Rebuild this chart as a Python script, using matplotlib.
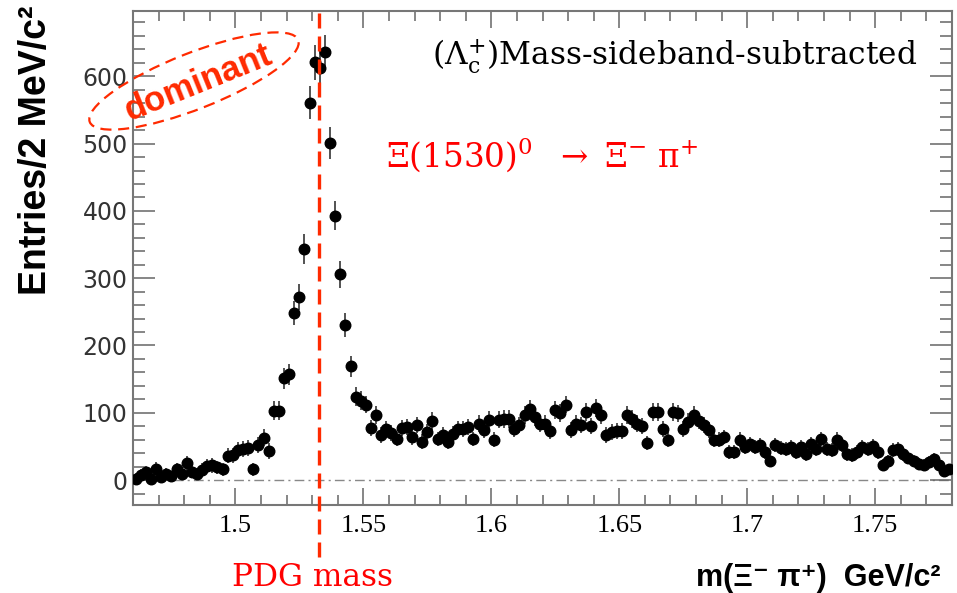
import numpy as np
import matplotlib
matplotlib.use("Agg")
import matplotlib.pyplot as plt
from matplotlib.patches import Ellipse

plt.rcParams["font.family"] = ["DejaVu Sans"]
plt.rcParams["mathtext.fontset"] = "dejavuserif"

# m(Xi- pi+) histogram, 2 MeV bins from 1.46 to 1.78 GeV
MASS_LO = 1.46
MASS_HI = 1.78
BIN_WIDTH = 0.002
PDG_MASS = 1.5326

counts = [
    2, 8, 12, 1, 17, 5, 9, 6, 16, 9,
    25, 12, 9, 15, 21, 22, 19, 16, 36, 37,
    45, 46, 48, 16, 52, 63, 43, 103, 103, 151,
    157, 248, 272, 343, 561, 621, 613, 636, 501, 393,
    306, 231, 169, 124, 118, 112, 78, 97, 67, 76,
    70, 61, 78, 79, 64, 82, 57, 72, 88, 61,
    67, 57, 69, 76, 76, 79, 61, 84, 75, 90,
    60, 90, 91, 91, 76, 82, 97, 106, 94, 84,
    84, 73, 104, 100, 112, 75, 84, 82, 101, 81,
    107, 97, 67, 72, 73, 73, 97, 91, 84, 81,
    55, 101, 101, 76, 60, 101, 99, 76, 87, 97,
    88, 82, 75, 60, 60, 64, 42, 42, 60, 49,
    54, 49, 52, 42, 28, 52, 48, 46, 49, 42,
    49, 39, 54, 46, 61, 46, 45, 60, 52, 39,
    37, 42, 49, 46, 51, 42, 22, 28, 45, 46,
    39, 33, 28, 24, 22, 27, 31, 22, 13, 16,
]

errors = [
    8, 9, 9, 8, 10, 8, 9, 8, 10, 9,
    11, 9, 9, 10, 10, 11, 10, 10, 11, 11,
    12, 12, 12, 10, 12, 13, 12, 14, 14, 16,
    16, 18, 19, 22, 25, 26, 26, 26, 24, 22,
    20, 18, 16, 14, 14, 13, 12, 13, 12, 12,
    12, 11, 12, 12, 12, 12, 11, 12, 13, 11,
    12, 11, 12, 12, 12, 12, 11, 13, 12, 13,
    11, 13, 13, 13, 12, 12, 13, 13, 13, 12,
    12, 12, 13, 13, 13, 12, 12, 12, 13, 12,
    13, 13, 12, 12, 12, 12, 13, 13, 12, 12,
    11, 13, 13, 12, 11, 13, 13, 12, 12, 13,
    12, 12, 12, 11, 11, 11, 10, 10, 11, 10,
    10, 10, 10, 10, 9, 10, 10, 10, 10, 10,
    10, 10, 10, 10, 11, 10, 10, 11, 10, 10,
    10, 10, 10, 10, 10, 10, 9, 9, 10, 10,
    10, 9, 9, 9, 9, 9, 9, 9, 8, 8,
]

x_ticks = [1.5, 1.55, 1.6, 1.65, 1.7, 1.75]
x_tick_labels = ["1.5", "1.55", "1.6", "1.65", "1.7", "1.75"]
y_ticks = [0, 100, 200, 300, 400, 500, 600]
y_tick_labels = ["0", "100", "200", "300", "400", "500", "600"]

RED = "#ff2a00"
W, H = 957, 593

centers = MASS_LO + BIN_WIDTH * (np.arange(len(counts)) + 0.5)

fig = plt.figure(figsize=(W / 100, H / 100), dpi=100)
ax = fig.add_axes([133 / W, 1 - 505 / H, (952 - 133) / W, (505 - 11) / H])

ax.axhline(0, color="#888888", lw=1.0, dashes=(7, 3, 1.5, 3), zorder=1)
ax.errorbar(centers, counts, yerr=errors, fmt="o", color="black", ms=7.6,
            ecolor="#444444", elinewidth=1.3, capsize=0, zorder=3)

ax.set_xlim(MASS_LO, MASS_HI)
ax.set_ylim(-37, 697)

ax.set_xticks(x_ticks, labels=x_tick_labels, fontfamily="Liberation Serif", fontsize=19)
ax.set_xticks(np.arange(1.46, 1.781, 0.01), minor=True)
ax.set_yticks(y_ticks, labels=y_tick_labels, fontsize=17, color="#333333")
ax.set_yticks(np.arange(-20, 697, 20), minor=True)

ax.tick_params(which="both", direction="in", top=True, right=True, color="#666666", width=1.1)
ax.tick_params(axis="x", which="major", length=12, pad=7)
ax.tick_params(axis="x", which="minor", length=7)
ax.tick_params(axis="y", which="major", length=16, pad=4)
ax.tick_params(axis="y", which="minor", length=8.5)
for side in ax.spines.values():
    side.set_color("#777777")
    side.set_linewidth(1.5)

ax.set_ylabel("Entries/2 MeV/c²", fontsize=27, weight="bold",
              family=["Liberation Sans", "DejaVu Sans"], va="center")
ax.yaxis.set_label_coords((36 - 133) / 819, (505 - 150) / 494)
ax.set_xlabel("m(Ξ⁻ π⁺)  GeV/c²", fontsize=22, weight="bold",
              family=["Liberation Sans", "DejaVu Sans"], ha="right", va="center")
ax.xaxis.set_label_coords((940 - 133) / 819, (505 - 578) / 494)

# PDG mass marker running past the frame
ax.plot([PDG_MASS, PDG_MASS], [-0.105, 1.008], transform=ax.get_xaxis_transform(),
        color=RED, lw=2.4, dashes=(4.5, 2.4), clip_on=False, zorder=4)
fig.text(313 / W, 1 - 578 / H, "PDG mass", color="red", fontsize=22.5,
         family="DejaVu Serif", ha="center", va="center")

ax.text(0.958, 0.907, r"$(\mathrm{\Lambda_{c}^{+}})$Mass-sideband-subtracted",
        transform=ax.transAxes, ha="right", va="center", fontsize=22.5,
        family="DejaVu Serif")
ax.text(0.309, 0.709,
        r"$\mathrm{\Xi(1530)^{0}}$  $\rightarrow$ $\mathrm{\Xi^{-}}$ $\mathrm{\pi^{+}}$",
        transform=ax.transAxes, ha="left", va="center", fontsize=23.5,
        color="red", family="DejaVu Serif")

# "dominant" callout
fig.add_artist(Ellipse((1.94, (H - 81) / 100), 2.24, 0.56, angle=21.5,
                       transform=fig.dpi_scale_trans, fill=False, ec=RED,
                       lw=1.6, ls=(0, (5, 3))))
fig.text(198 / W, 1 - 83 / H, "dominant", rotation=22, rotation_mode="anchor",
         fontsize=25, weight="bold", color=RED, family="Liberation Sans",
         ha="center", va="center")

fig.savefig("out.png", dpi=100)
